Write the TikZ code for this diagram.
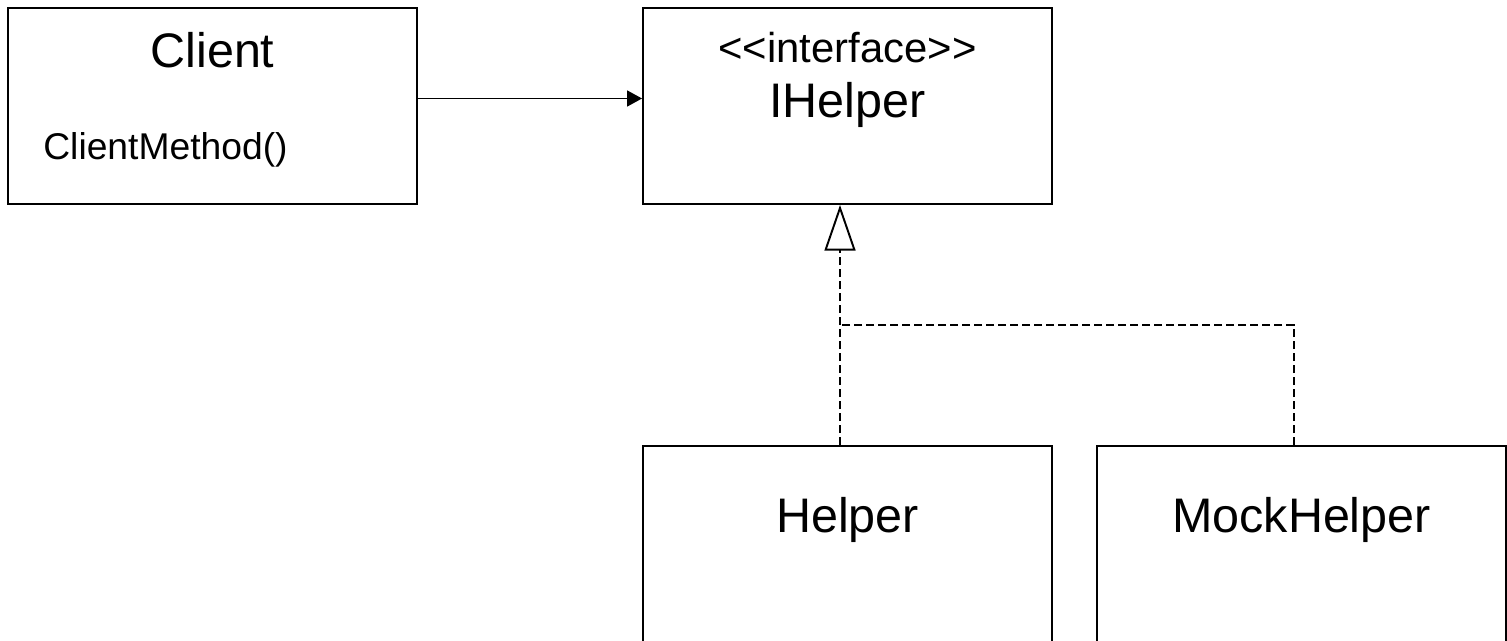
\documentclass[tikz,border=0pt]{standalone}
\usepackage{fontspec}
\setmainfont{Liberation Sans}
\usetikzlibrary{arrows.meta}

\begin{document}
\begin{tikzpicture}[x=0.02cm, y=-0.02cm,
	box/.style={draw, line width=1.1pt, minimum width=8.18cm, minimum height=3.92cm, inner sep=0pt},
	bigtext/.style={anchor=base, inner sep=0pt, font=\fontsize{27.6}{33}\selectfont},
	stereotext/.style={anchor=base, inner sep=0pt, font=\fontsize{23.8}{28}\selectfont},
	methodtext/.style={anchor=base west, inner sep=0pt, font=\fontsize{21.2}{25}\selectfont},
	assoc/.style={line width=1.1pt, -{Triangle[length=8.5pt, width=9pt]}},
	dashline/.style={line width=1pt, dash pattern=on 0.16cm off 0.08cm},
	realize/.style={dashline, -{Triangle[open, length=26pt, width=17.6pt, line width=1.1pt]}}]
				\useasboundingbox (0,0) rectangle (1507,641);
				% classes
				\node[box] (client) at (212.5,106) {};
				\node[box] (ihelper) at (847.5,106) {};
				\node[box] (helper) at (847.5,544) {};
				\node[box] (mock) at (1301.5,544) {};
				% texts
				\node[bigtext] (clientname) at (212.5,68) {Client};
				\node[methodtext] (clientmethod) at (43,160) {ClientMethod()};
				\node[stereotext] (stereo) at (847.5,63) {<{}<interface>{}>};
				\node[bigtext] (ihelpername) at (847.5,118) {IHelper};
				\node[bigtext] (helpername) at (847.5,532) {Helper};
				\node[bigtext] (mockname) at (1301.5,532) {MockHelper};
				% connectors
				\coordinate (branch) at (840,325);
				\draw[assoc] ([yshift=0.15cm]client.east) -- ([yshift=0.15cm]ihelper.west);
				\draw[realize] ([xshift=-0.15cm]helper.north) -- ([xshift=-0.15cm]ihelper.south);
				\draw[dashline] ([xshift=-0.15cm]mock.north) |- (branch);
			\end{tikzpicture}
\end{document}
